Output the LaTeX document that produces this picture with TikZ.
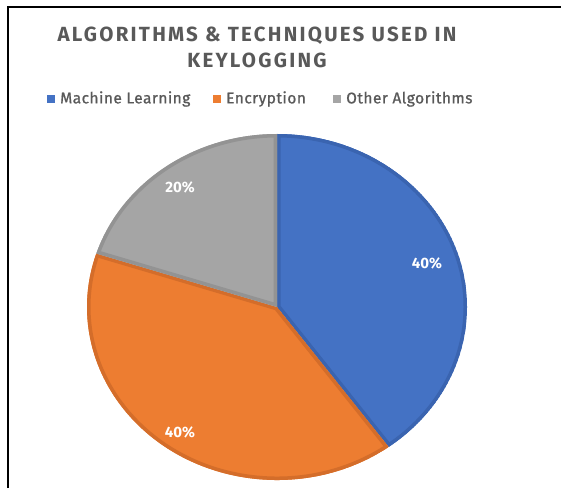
\documentclass[tikz,border=0pt]{standalone}
\usepackage{fontspec}
\setmainfont{Fira Sans}
\newfontfamily\legfont{Fira Sans}[FakeBold=0.9, LetterSpace=3]
\definecolor{mlblue}{HTML}{4472C4}
\definecolor{mlblueedge}{HTML}{3A64B0}
\definecolor{encorange}{HTML}{ED7D31}
\definecolor{encorangeedge}{HTML}{D46D2A}
\definecolor{othgray}{HTML}{A5A5A5}
\definecolor{othgrayedge}{HTML}{939393}
\definecolor{txtgray}{HTML}{595959}
\tikzset{
  pct/.style={text=white, font=\fontsize{15}{17}\selectfont\bfseries, inner sep=0pt},
  legtext/.style={text=txtgray, font=\legfont\fontsize{15.5}{17}\selectfont, anchor=west, inner sep=0pt},
  legsq/.style={minimum size=8pt, inner sep=0pt, anchor=west},
  ttl/.style={text=txtgray, font=\fontsize{20.5}{26}\selectfont\bfseries\addfontfeatures{LetterSpace=11}, align=center, inner sep=0pt}
}
\begin{document}
\begin{tikzpicture}[x=1pt,y=1pt]
\useasboundingbox (0,0) rectangle (561,488);
\fill[white] (0,0) rectangle (561,488);
% frame
\draw[black, line width=2pt] (7.5,0) -- (7.5,480.5) -- (561,480.5);
% title
\node[ttl] (title) at (257,441) {ALGORITHMS \& TECHNIQUES USED IN\\[0pt]KEYLOGGING};
% legend
\node[legsq, fill=mlblue] (sqml) at (47,389) {};
\node[legtext] (lml) at (60,389) {Machine Learning};
\node[legsq, fill=encorange] (sqenc) at (213,389) {};
\node[legtext] (lenc) at (226,389) {Encryption};
\node[legsq, fill=othgray] (sqoth) at (333,389) {};
\node[legtext] (loth) at (346,389) {Other Algorithms};
% pie
\coordinate (c) at (277,181);
\def\pieslice#1#2#3#4{%
  \begin{scope}
    \clip (c) -- +(#1:190 and 173) arc[start angle=#1, end angle=#2, x radius=190, y radius=173] -- cycle;
    \fill[#3, draw=#4, line width=7pt, line join=round] (c) -- +(#1:190 and 173) arc[start angle=#1, end angle=#2, x radius=190, y radius=173] -- cycle;
  \end{scope}}
\pieslice{90}{-54}{mlblue}{mlblueedge}
\pieslice{-54}{-198}{encorange}{encorangeedge}
\pieslice{162}{90}{othgray}{othgrayedge}
\node[pct] (pml) at (427,225) {40\%};
\node[pct] (penc) at (180,56) {40\%};
\node[pct] (poth) at (180,301) {20\%};
\end{tikzpicture}
\end{document}
